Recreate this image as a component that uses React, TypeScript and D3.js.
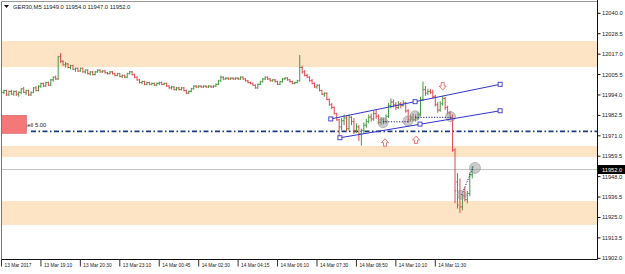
import React from "react";
import * as d3 from "d3";

const W = 625;
const H = 274;

// OHLC bars (GER30, M5)
const ohlc: [number, number, number, number][] = [
  [11994.5,11996.5,11993,11995.5],[11995.5,11997,11994.5,11996.5],[11996.5,11997,11993.5,11994],[11994,11996.5,11993.5,11996],
  [11996,11997,11994,11994.5],[11994.5,11996.5,11993.5,11996],[11996,11996.5,11993.5,11994.5],[11994.5,11996,11993,11995.5],
  [11995.5,11998,11994.5,11997.5],[11997.5,11998.5,11995,11995.5],[11995.5,11997,11994,11996.5],[11996.5,11997,11993.5,11994],
  [11994,11996,11993.5,11995.5],[11995.5,11998.5,11995,11998],[11998,11999,11996,11996.5],[11996.5,11999.5,11996,11999],
  [11999,12001,11998,12000.5],[12000.5,12001,11998.5,11999],[11999,12001.5,11998.5,12001],[12001,12001.5,11999,11999.5],
  [11999.5,12003,11999,12002.5],[12002.5,12004.5,12001.5,12004],[12004,12005,12002.5,12003],[12003,12016,12002.5,12015.5],
  [12015.5,12017.5,12012,12013],[12013,12013.5,12010.5,12011],[12011,12012.5,12009.5,12011.5],[12011.5,12012,12009,12009.5],
  [12009.5,12011,12008.5,12010.5],[12010.5,12011,12008,12008.5],[12008.5,12009.5,12007,12009],[12009,12009.5,12007,12007.5],
  [12007.5,12009.5,12007,12009],[12009,12009.5,12006.5,12007],[12007,12008.5,12006,12008],[12008,12008.5,12005.5,12006],
  [12006,12007.5,12005,12007],[12007,12007.5,12005,12005.5],[12005.5,12007.5,12005,12007],[12007,12008.5,12006.5,12008],
  [12008,12008.5,12006.5,12007],[12007,12008,12006.5,12007.5],[12007.5,12008,12006,12006.5],[12006.5,12007,12005.5,12006],
  [12006,12007.5,12005.5,12007],[12007,12007.5,12005.5,12006],[12006,12006.5,12004.5,12005],[12005,12006.5,12004.5,12006],
  [12006,12006.5,12004,12004.5],[12004.5,12005.5,12003.5,12005],[12005,12005.5,12003.5,12004],[12004,12006.5,12003.5,12006],
  [12006,12007.5,12005.5,12007],[12007,12007.5,12005,12005.5],[12005.5,12006,12003.5,12004],[12004,12004.5,12002,12002.5],
  [12002.5,12003,12000.5,12001],[12001,12002,12000,12001.5],[12001.5,12002,11999.5,12000],[12000,12001.5,11999.5,12001],
  [12001,12001.5,11999.5,12000],[12000,12001,11999.5,12000.5],[12000.5,12001,11999,11999.5],[11999.5,12001,11999,12000.5],
  [12000.5,12001.5,11999.5,12001],[12001,12001.5,11999.5,12000],[12000,12001,11999.5,12000.5],[12000.5,12001,11998.5,11999],
  [11999,11999.5,11997.5,11998],[11998,11999,11997,11998.5],[11998.5,11999,11996.5,11997],[11997,11998.5,11996.5,11998],
  [11998,11998.5,11996.5,11997],[11997,11998.5,11996.5,11998],[11998,11998.5,11996,11996.5],[11996.5,11997,11994.5,11995],
  [11995,11996.5,11994.5,11996],[11996,11998,11995.5,11997.5],[11997.5,11999.5,11997,11999],[11999,11999.5,11998,11998.5],
  [11998.5,11999.5,11998,11999],[11999,11999.5,11998,11998.5],[11998.5,11999.5,11998,11999],[11999,11999.5,11998,11998.5],
  [11998.5,11999.5,11998,11999],[11999,11999.5,11998,11998.5],[11998.5,11999.5,11998,11999],[11999,12000.5,11998.5,12000],
  [12000,12002.5,11999.5,12002],[12002,12005,12001.5,12004],[12004,12004.5,12002.5,12003],[12003,12004,12002.5,12003.5],
  [12003.5,12004,12002.5,12003],[12003,12004,12002.5,12003.5],[12003.5,12004,12002.5,12003],[12003,12004,12002.5,12003.5],
  [12003.5,12004,12002.5,12003],[12003,12004.5,12002.5,12004],[12004,12004.5,12002.5,12003],[12003,12003.5,12001.5,12002],
  [12002,12002.5,12000.5,12001],[12001,12001.5,12000,12000.5],[12000.5,12001,11999,11999.5],[11999.5,12000,11997.5,11998],
  [11998,12000.5,11997.5,12000],[12000,12002,11999.5,12001.5],[12001.5,12003.5,12001,12003],[12003,12004.5,12002.5,12004],
  [12004,12004.5,12002.5,12003],[12003,12003.5,12001.5,12002],[12002,12003,12001.5,12002.5],[12002.5,12003,12001,12001.5],
  [12001.5,12002,11999.5,12000],[12000,12002,11999.5,12001.5],[12001.5,12003.5,12001,12003],[12003,12004,12002.5,12003.5],
  [12003.5,12004,12002,12002.5],[12002.5,12003,12001,12001.5],[12001.5,12002,12000,12000.5],[12000.5,12001.5,12000,12001],
  [12001,12002.5,12000.5,12002],[12002,12016.5,12001.5,12009.5],[12009.5,12010.5,12006,12007],[12007,12008,12004.5,12005],
  [12005,12006,12003.5,12004],[12004,12004.5,12001.5,12002],[12002,12003,12000,12000.5],[12000.5,12001,11998,11998.5],
  [11998.5,12000,11997.5,11999.5],[11999.5,12000,11996,11996.5],[11996.5,11997,11994,11994.5],[11994.5,11995.5,11993,11995],
  [11995,11995.5,11991,11991.5],[11991.5,11992,11988,11988.5],[11988.5,11989.5,11986,11987],[11987,11987.5,11983,11983.5],
  [11983.5,11984,11979.5,11980],[11980,11980.5,11970,11976],[11976,11981,11974,11979.5],[11979.5,11983,11977,11981],
  [11981,11982.5,11973.5,11975],[11975,11983,11974,11981.5],[11981.5,11982,11977,11979],[11979,11981,11972,11974],
  [11974,11978,11972.5,11976],[11976,11977,11968,11972],[11972,11975,11965.5,11974],[11974,11978.5,11972,11977],
  [11977,11980.5,11975.5,11979],[11979,11983,11978,11981.5],[11981.5,11983.5,11979,11980.5],[11980.5,11985,11979.5,11983.5],
  [11983.5,11985.5,11980.5,11982],[11982,11983,11977.5,11978.5],[11978.5,11981.5,11977,11980],[11980,11981,11977.5,11979],
  [11979,11983,11978,11982],[11982,11989.5,11981,11988],[11988,11992,11986.5,11990],[11990,11991.5,11987,11988.5],
  [11988.5,11990,11985.5,11987],[11987,11990.5,11986,11989],[11989,11990,11986.5,11988],[11988,11991,11987.5,11989.5],
  [11989.5,11990,11984,11985],[11985,11986,11978.5,11980],[11980,11983,11979,11981.5],[11981.5,11983.5,11979,11980],
  [11980,11983,11979,11981],[11981,11984.5,11980,11983],[11983,11993,11982,11991.5],[11991.5,12001.5,11990.5,11997],
  [11997,11999,11993.5,11995],[11995,11997.5,11994,11996],[11996,11997.5,11994.5,11995.5],[11995.5,11997,11992,11993],
  [11993,11994,11987.5,11988.5],[11988.5,11990,11984,11985.5],[11985.5,11990.5,11984.5,11989],[11989,11993.5,11988,11992],
  [11992,11993,11985.5,11987],[11987,11988,11983,11984],[11984,11985,11980,11981],[11981,11983,11962,11963],
  [11963,11964,11933,11940],[11945,11950,11930,11932],[11940,11947,11927.5,11931],[11931,11938,11929,11937.5],
  [11937,11942,11934,11935],[11935,11940,11933,11938.5],[11938.5,11950.5,11937,11949],[11949,11954,11947,11952],
];

const priceTicks = [12040, 12028.5, 12017, 12005.5, 11994, 11982.5, 11971, 11959.5, 11948, 11936.5, 11925, 11913.5, 11902];
const timeTickIdx = [0, 16, 32, 48, 64, 80, 96, 112, 128, 144, 160, 176];
const timeTickLabels = [
  "13 Mar 2017", "13 Mar 19:10", "13 Mar 20:30", "13 Mar 23:10", "14 Mar 00:45", "14 Mar 02:30",
  "14 Mar 04:15", "14 Mar 06:10", "14 Mar 07:30", "14 Mar 08:50", "14 Mar 10:10", "14 Mar 11:30",
];

// supply/demand zones [top, bottom]
const zones: [number, number][] = [
  [12024.4, 12009.7],
  [11965.3, 11959.1],
  [11934.3, 11920.8],
];

const currentPrice = 11952.0;
const orderLevel = 11973.5;
const orderLabel = "sell 5.00";
const titleText = "GER30,M5  11949.0 11954.0 11947.0 11952.0";

// channel lines [[i1,p1],[i2,p2]]
const channelLines: [number, number][][] = [
  [[133.6, 11980.5], [202.3, 12000.0]],
  [[137.3, 11969.9], [202.3, 11985.1]],
];
const channelAnchors: [number, number][] = [
  [133.6, 11980.5], [167.8, 11990.2], [202.3, 12000.0],
  [137.3, 11969.9], [169.8, 11977.6], [202.3, 11985.1],
];
const dottedLines: [number, number][][] = [
  [[154.7, 11978.9], [165.7, 11978.9]],
  [[167.8, 11981.4], [182.7, 11981.4]],
  [[186.7, 11937.7], [191.4, 11953.6]],
];
const markerCircles: [number, number, number][] = [
  [154.8, 11978.4, 5], [164.9, 11979.3, 5], [167.8, 11982.3, 5],
  [182.2, 11981.8, 5], [186.7, 11937.7, 4.5], [192.1, 11952.9, 5.5],
];
const arrowsUp: [number, number][] = [[155.6, 11967.1], [168.2, 11968.6]];
const arrowsDown: [number, number][] = [[179.0, 11999.0]];

const PLOT_L = 1.5, PLOT_R = 597.5, PLOT_T = 1.5, PLOT_B = 259.5;

export default function App() {
  const x = d3.scaleLinear().domain([0, 176]).range([1.5, 435.3]);
  const y = d3.scaleLinear().domain([11902, 12040]).range([258.3, 13.3]);
  const font = "'Liberation Sans', Arial, sans-serif";
  const green = "#3f9b3f";
  const red = "#e2474e";
  const line = d3.line<[number, number]>().x((d) => x(d[0])).y((d) => y(d[1]));

  const arrowPath = (cx: number, cy: number, up: boolean) => {
    const s = up ? 1 : -1;
    return `M${cx - 3.5},${cy} L${cx},${cy - 4 * s} L${cx + 3.5},${cy} L${cx + 1.5},${cy} L${cx + 1.5},${cy + 3.5 * s} L${cx - 1.5},${cy + 3.5 * s} L${cx - 1.5},${cy} Z`;
  };

  return (
    <svg width={W} height={H} style={{ position: "fixed", left: 0, top: 0, background: "#fff" }}>
      <defs>
        <clipPath id="plot">
          <rect x={PLOT_L} y={PLOT_T} width={PLOT_R - PLOT_L} height={PLOT_B - PLOT_T} />
        </clipPath>
      </defs>
      <rect x={0} y={0} width={W} height={H} fill="#fff" />
      <g clipPath="url(#plot)">
        {zones.map((z, i) => (
          <rect key={i} x={PLOT_L} width={PLOT_R - PLOT_L} y={y(z[0])} height={y(z[1]) - y(z[0])} fill="#fde4c4" />
        ))}
        <line x1={PLOT_L} x2={PLOT_R} y1={y(currentPrice)} y2={y(currentPrice)} stroke="#c4c4c4" strokeWidth={1} />
        <line x1={31} x2={PLOT_R} y1={y(orderLevel)} y2={y(orderLevel)} stroke="#1d3c86" strokeWidth={1.6} strokeDasharray="5,2.5,1.5,2.5" />
        {ohlc.map((b, i) => {
          const [o, h, l, c] = b;
          const cx = x(i);
          const col = c >= o ? green : red;
          return (
            <g key={i} stroke={col} strokeWidth={1}>
              <line x1={cx} x2={cx} y1={y(h)} y2={y(l)} />
              <line x1={cx - 1.2} x2={cx} y1={y(o)} y2={y(o)} />
              <line x1={cx} x2={cx + 1.2} y1={y(c)} y2={y(c)} />
            </g>
          );
        })}
        {markerCircles.map((m, i) => (
          <circle key={i} cx={x(m[0])} cy={y(m[1])} r={m[2]} fill="rgba(140,140,140,0.45)" stroke="rgba(150,150,150,0.7)" strokeWidth={0.8} />
        ))}
        {channelLines.map((l, i) => (
          <path key={i} d={line(l) || ""} stroke="#3434c8" strokeWidth={1} fill="none" />
        ))}
        {dottedLines.map((l, i) => (
          <path key={i} d={line(l) || ""} stroke="#20207a" strokeWidth={1} strokeDasharray="1.2,1.5" fill="none" />
        ))}
        {channelAnchors.map((a, i) => (
          <rect key={i} x={x(a[0]) - 2} y={y(a[1]) - 2} width={4} height={4} fill="#fff" stroke="#3434c8" strokeWidth={0.9} />
        ))}
        {arrowsUp.map((a, i) => (
          <path key={i} d={arrowPath(x(a[0]), y(a[1]), true)} fill="#fff" stroke="#e46a6a" strokeWidth={0.9} />
        ))}
        {arrowsDown.map((a, i) => (
          <path key={i} d={arrowPath(x(a[0]), y(a[1]), false)} fill="#fff" stroke="#e46a6a" strokeWidth={0.9} />
        ))}
        <text x={24.6} y={y(orderLevel) - 4} fontFamily={font} fontSize={5.8} fill="#222">{orderLabel}</text>
        <rect x={0} y={y(orderLevel) - 16} width={26.5} height={18} fill="#f47878" stroke="#d06060" strokeWidth={0.6} />
      </g>
      {/* frame */}
      <line x1={PLOT_L} x2={PLOT_L} y1={PLOT_T} y2={PLOT_B} stroke="#777" />
      <line x1={PLOT_L} x2={PLOT_R} y1={PLOT_T} y2={PLOT_T} stroke="#999" />
      <line x1={PLOT_R} x2={PLOT_R} y1={0} y2={PLOT_B} stroke="#111" />
      <line x1={PLOT_L} x2={PLOT_R} y1={PLOT_B} y2={PLOT_B} stroke="#111" />
      {/* title */}
      <path d="M4,5 L9,5 L6.5,8 Z" fill="#111" />
      <text x={13} y={9} fontFamily={font} fontSize={5.8} fill="#222">{titleText}</text>
      {/* price axis */}
      {priceTicks.map((p, i) => (
        <g key={i}>
          <line x1={PLOT_R} x2={PLOT_R + 3} y1={y(p)} y2={y(p)} stroke="#111" />
          <text x={602} y={y(p) + 2} fontFamily={font} fontSize={5.7} fill="#222">{p.toFixed(1)}</text>
        </g>
      ))}
      <rect x={598} y={y(currentPrice) - 4.5} width={27} height={9} fill="#000" />
      <text x={602} y={y(currentPrice) + 2} fontFamily={font} fontSize={5.7} fill="#fff">{currentPrice.toFixed(1)}</text>
      {/* time axis */}
      {timeTickIdx.map((t, i) => (
        <g key={i}>
          <line x1={x(t)} x2={x(t)} y1={PLOT_B} y2={PLOT_B + 7} stroke="#333" />
          <text x={x(t) + 3} y={PLOT_B + 7} fontFamily={font} fontSize={4.8} fill="#222">{timeTickLabels[i]}</text>
        </g>
      ))}
    </svg>
  );
}
